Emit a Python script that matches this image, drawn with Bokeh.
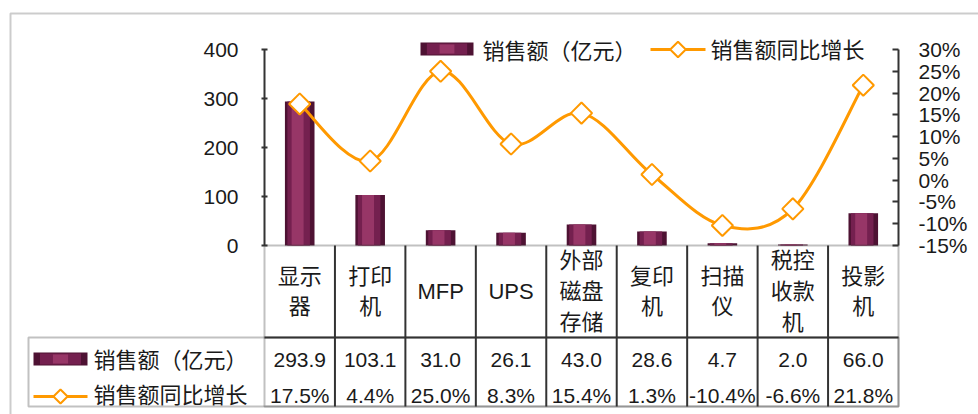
import numpy as np
from bokeh.plotting import figure
from bokeh.models import (Range1d, LinearAxis, FixedTicker, PrintfTickFormatter,
                          BoxAnnotation, ColumnDataSource)
from bokeh.transform import dodge
from bokeh.embed import file_html
from bokeh.resources import INLINE

# ---------------- data ----------------
categories = ["显示器", "打印机", "MFP", "UPS", "外部磁盘存储", "复印机", "扫描仪", "税控收款机", "投影机"]
category_labels = ["显示\n器", "打印\n机", "MFP", "UPS", "外部\n磁盘\n存储", "复印\n机", "扫描\n仪", "税控\n收款\n机", "投影\n机"]
sales = [293.9, 103.1, 31.0, 26.1, 43.0, 28.6, 4.7, 2.0, 66.0]
growth = [17.5, 4.4, 25.0, 8.3, 15.4, 1.3, -10.4, -6.6, 21.8]
sales_ticks = [0, 100, 200, 300, 400]
growth_ticks = [-15, -10, -5, 0, 5, 10, 15, 20, 25, 30]
series_names = ["销售额（亿元）", "销售额同比增长"]

# ---------------- style ----------------
LATIN = "Liberation Sans"
CJK = "Noto Sans CJK SC"
MIXED = "Liberation Sans, Noto Sans CJK SC"
ORANGE = "#ff9900"
INK = "#333333"
TXT = "#1a1a1a"
BAR_DARK, BAR_MID, BAR_LIGHT = "#4e1233", "#74204f", "#973667"

# picture geometry (pixels)
W, H = 978, 414
PLOT_L, PLOT_R = 264, 898          # category band (left / right value axes)
ZERO_Y, TOP_Y = 245, 49            # value axes span

n = len(categories)
xc = np.arange(n) + 0.5
colw = (PLOT_R - PLOT_L) / n

ppu = (ZERO_Y - TOP_Y) / (sales_ticks[-1] - sales_ticks[0])
sales_range = Range1d(-(H - ZERO_Y) / ppu, ZERO_Y / ppu)
ppp = (ZERO_Y - TOP_Y) / (growth_ticks[-1] - growth_ticks[0])
growth_range = Range1d(growth_ticks[0] - (H - ZERO_Y) / ppp, growth_ticks[-1] + TOP_Y / ppp)

p = figure(width=W, height=H, x_range=Range1d(-PLOT_L / colw, (W - PLOT_L) / colw),
           y_range=sales_range, x_axis_type=None, y_axis_type=None,
           output_backend="svg", toolbar_location=None,
           min_border_left=0, min_border_right=0, min_border_top=0, min_border_bottom=0,
           outline_line_color=None, background_fill_color="white", border_fill_color="white")
p.extra_y_ranges = {"growth": growth_range, "py": Range1d(H, 0)}
p.extra_x_ranges = {"px": Range1d(0, W)}

# ---------------- axes (fixed at the edges of the category band) ----------------
ly = LinearAxis(ticker=FixedTicker(ticks=sales_ticks, minor_ticks=[]),
                bounds=(sales_ticks[0], sales_ticks[-1]), fixed_location=0)
ry = LinearAxis(y_range_name="growth", ticker=FixedTicker(ticks=growth_ticks, minor_ticks=[]),
                formatter=PrintfTickFormatter(format="%d%%"),
                bounds=(growth_ticks[0], growth_ticks[-1]), fixed_location=n)
for ax in (ly, ry):
    ax.axis_line_width = 2
    ax.axis_line_color = INK
    ax.major_tick_line_width = 2
    ax.major_tick_line_color = INK
    ax.major_label_text_font = LATIN
    ax.major_label_text_font_size = "21px"
    ax.major_label_text_color = TXT
ly.major_tick_in, ly.major_tick_out, ly.major_label_standoff = 3, 3, 23
ry.major_tick_in, ry.major_tick_out, ry.major_label_standoff = 6, 0, 20
p.add_layout(ly, "left")
p.add_layout(ry, "right")

# ---------------- bars ----------------
src = ColumnDataSource(dict(
    x=xc, sales=sales, growth=growth, cat=category_labels,
    sales_txt=[f"{v:.1f}" for v in sales],
    growth_txt=[f"{v:.1f}%" for v in growth]))

p.vbar(x="x", top="sales", bottom=0, width=0.42, source=src, fill_color=BAR_DARK, line_color=None)
p.vbar(x=dodge("x", -0.015), top="sales", bottom=0, width=0.32, source=src,
       fill_color=BAR_MID, line_color=None)
p.vbar(x=dodge("x", -0.03), top="sales", bottom=0, width=0.17, source=src,
       fill_color=BAR_LIGHT, line_color=None)

# ---------------- smoothed growth line ----------------
gx = np.asarray(xc, float)
gy = np.asarray(growth, float)
x0, y0, x1, y1, cx0, cy0, cx1, cy1 = ([] for _ in range(8))
for i in range(n - 1):
    a = max(i - 1, 0)
    d = min(i + 2, n - 1)
    x0.append(gx[i]); y0.append(gy[i]); x1.append(gx[i + 1]); y1.append(gy[i + 1])
    cx0.append(gx[i] + (gx[i + 1] - gx[a]) / 6); cy0.append(gy[i] + (gy[i + 1] - gy[a]) / 6)
    cx1.append(gx[i + 1] - (gx[d] - gx[i]) / 6); cy1.append(gy[i + 1] - (gy[d] - gy[i]) / 6)
p.bezier(x0=x0, y0=y0, x1=x1, y1=y1, cx0=cx0, cy0=cy0, cx1=cx1, cy1=cy1,
         y_range_name="growth", line_color=ORANGE, line_width=3)
p.scatter(x="x", y="growth", source=src, y_range_name="growth", marker="square",
          angle=np.pi / 4, size=15, fill_color="white", line_color=ORANGE, line_width=2)

# ---------------- data table ----------------
p.segment(x0=np.arange(1, n), x1=np.arange(1, n), y0=245, y1=406, y_range_name="py",
          line_color=INK, line_width=2)
p.segment(x0=0, x1=n, y0=337, y1=337, y_range_name="py", line_color=INK, line_width=2)
p.add_layout(BoxAnnotation(left=PLOT_L, right=PLOT_R, top=245, bottom=406,
                           x_range_name="px", y_range_name="py", fill_alpha=0,
                           line_color=INK, line_width=2))
p.add_layout(BoxAnnotation(left=28, right=PLOT_R, top=337, bottom=406,
                           x_range_name="px", y_range_name="py", fill_alpha=0,
                           line_color=INK, line_width=2))
# outer chart border
p.add_layout(BoxAnnotation(left=10, right=1200, top=13, bottom=900,
                           x_range_name="px", y_range_name="py", fill_alpha=0,
                           line_color="#555555", line_width=2))

p.text(x="x", y=291, text="cat", source=src, y_range_name="py", text_align="center",
       text_baseline="middle", text_font={"value": MIXED}, text_font_size="22px",
       text_line_height=1.23, text_color=TXT)
p.text(x="x", y=359, text="sales_txt", source=src, y_range_name="py", text_align="center",
       text_baseline="middle", text_font={"value": LATIN}, text_font_size="21px", text_color=TXT)
p.text(x="x", y=395, text="growth_txt", source=src, y_range_name="py", text_align="center",
       text_baseline="middle", text_font={"value": LATIN}, text_font_size="21px", text_color=TXT)

# ---------------- legend keys (chart top and table row headers) ----------------
def bar_key(left, right, top, bottom):
    p.quad(left=left, right=right, top=top, bottom=bottom, x_range_name="px",
           y_range_name="py", fill_color=BAR_DARK, line_color=None)
    m = (right - left) * 0.12
    p.quad(left=left + m, right=right - m, top=top + 1, bottom=bottom - 1, x_range_name="px",
           y_range_name="py", fill_color=BAR_MID, line_color=None)
    p.quad(left=left + 3 * m, right=right - 3 * m, top=top + 2, bottom=bottom - 2,
           x_range_name="px", y_range_name="py", fill_color=BAR_LIGHT, line_color=None)

def line_key(left, right, yy, size):
    p.segment(x0=left, x1=right, y0=yy, y1=yy, x_range_name="px", y_range_name="py",
              line_color=ORANGE, line_width=3)
    p.scatter(x=[(left + right) / 2], y=[yy], x_range_name="px", y_range_name="py",
              marker="square", angle=np.pi / 4, size=size, fill_color="white",
              line_color=ORANGE, line_width=2)

def key_text(xx, yy, label):
    p.text(x=[xx], y=[yy], text=[label], x_range_name="px", y_range_name="py",
           text_align="left", text_baseline="middle", text_font={"value": CJK},
           text_font_size="22px", text_color=TXT)

bar_key(420, 473, 42, 55)
key_text(482, 48, series_names[0])
line_key(650, 705, 49, 11)
key_text(710, 47, series_names[1])

bar_key(33, 87, 352, 365)
key_text(93, 357, series_names[0])
line_key(33, 87, 396, 10)
key_text(93, 392, series_names[1])

open("out.html", "w").write(file_html(p, INLINE))
